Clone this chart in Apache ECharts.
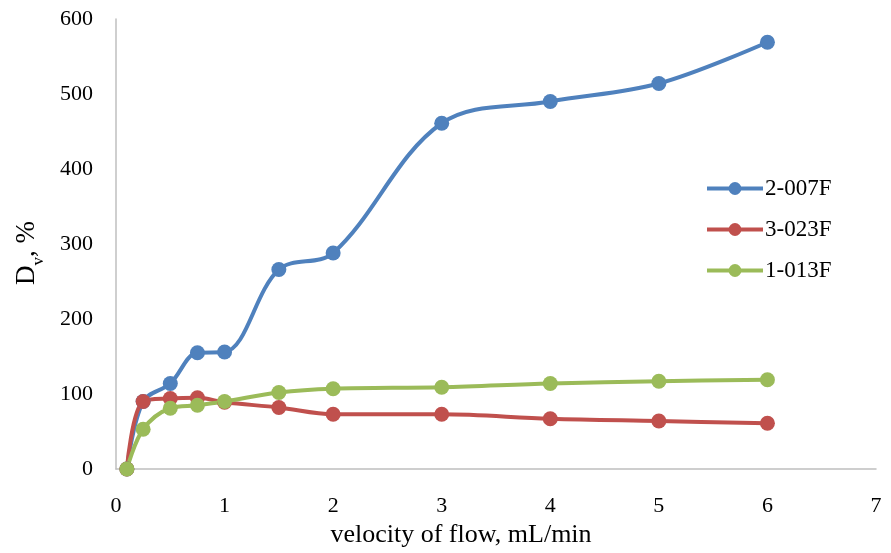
<!DOCTYPE html>
<html lang="en">
<head>
  <meta charset="UTF-8">
  <title>Dv vs velocity of flow</title>
  <style>
    html, body { margin: 0; padding: 0; background: #fff; }
    #chart { width: 891px; height: 553px; }
  </style>
  <script src="https://cdn.jsdelivr.net/npm/echarts@6/dist/echarts.min.js"></script>
</head>
<body>
  <div id="chart"></div>
  <script>
    // flow velocity, mL/min
    const velocity = [0.1, 0.25, 0.5, 0.75, 1, 1.5, 2, 3, 4, 5, 6];
    const seriesNames = ['2-007F', '3-023F', '1-013F'];
    const dv2007F = [0, 90, 114, 155, 156, 266, 288, 461, 490, 514, 569];
    const dv3023F = [0, 90, 94, 95, 89, 82, 73, 73, 67, 64, 61];
    const dv1013F = [0, 53, 81, 85, 90, 102, 107, 109, 114, 117, 119];
    const colors = ['#4F81BD', '#C0504D', '#9BBB59'];

    const font = '"Liberation Serif", "Times New Roman", serif';
    const myChart = echarts.init(document.getElementById('chart'));

    function makeSeries(name, values, color) {
      return {
        name: name,
        type: 'line',
        smooth: 0.35,
        symbol: 'circle',
        symbolSize: 15,
        data: velocity.map((v, i) => [v, values[i]]),
        lineStyle: { width: 4, color: color },
        itemStyle: { color: color },
        emphasis: { disabled: true }
      };
    }

    const option = {
      animation: false,
      textStyle: { fontFamily: font },
      grid: { left: 116, right: 15, top: 19, bottom: 83, containLabel: false },
      legend: {
        orient: 'vertical',
        left: 700,
        top: 172,
        itemWidth: 56,
        itemHeight: 16,
        itemGap: 18,
        lineStyle: { width: 4 },
        textStyle: { fontFamily: font, fontSize: 23, color: '#000', padding: [0, 0, 0, -3] },
        data: seriesNames
      },
      xAxis: {
        type: 'value',
        min: 0,
        max: 7,
        interval: 1,
        name: 'velocity of flow, mL/min',
        nameLocation: 'middle',
        nameGap: 53,
        nameTextStyle: { fontFamily: font, fontSize: 26, color: '#000', padding: [0, 70, 0, 0] },
        axisLine: { lineStyle: { color: '#BFBFBF', width: 1.5 } },
        axisTick: { show: false },
        splitLine: { show: false },
        axisLabel: { margin: 26, fontFamily: font, fontSize: 22, color: '#000' }
      },
      yAxis: {
        type: 'value',
        min: 0,
        max: 600,
        interval: 100,
        name: '{a|D}{b|v}{a|, %}',
        nameLocation: 'middle',
        nameGap: 76,
        nameRotate: 90,
        nameTextStyle: {
          padding: [0, 18, 0, 0],
          rich: {
            a: { fontFamily: font, fontSize: 27, color: '#000', lineHeight: 32, verticalAlign: 'bottom' },
            b: { fontFamily: font, fontSize: 17, color: '#000', lineHeight: 32, verticalAlign: 'bottom', padding: [0, 0, -7, 0] }
          }
        },
        axisLine: { show: true, lineStyle: { color: '#BFBFBF', width: 1.5 } },
        axisTick: { show: false },
        splitLine: { show: false },
        axisLabel: { margin: 23, fontFamily: font, fontSize: 22, color: '#000' }
      },
      series: [
        makeSeries(seriesNames[0], dv2007F, colors[0]),
        makeSeries(seriesNames[1], dv3023F, colors[1]),
        makeSeries(seriesNames[2], dv1013F, colors[2])
      ]
    };
    myChart.setOption(option);
  </script>
</body>
</html>
